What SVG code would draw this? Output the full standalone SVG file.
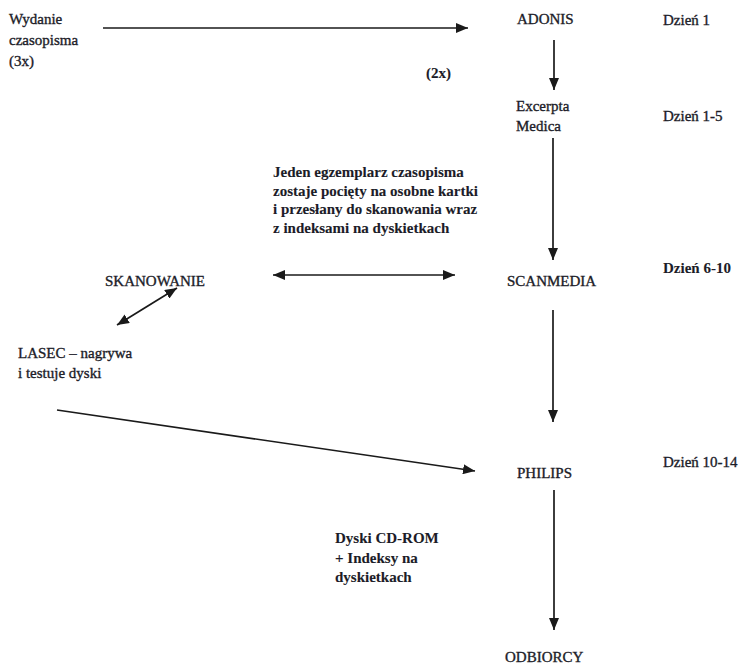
<svg xmlns="http://www.w3.org/2000/svg" width="747" height="666" viewBox="0 0 747 666">
<style>
text{font-family:"Liberation Serif","Times New Roman",serif;font-size:15px;fill:#1c1c28;stroke:#1c1c28;stroke-width:0.35}
.b{font-weight:bold;stroke-width:0.1}
.e{stroke:#1a1a1a;stroke-width:1.7;fill:none}
</style>
<defs>
<marker id="ah" viewBox="0 0 12 10" refX="12" refY="5" markerWidth="12" markerHeight="10" markerUnits="userSpaceOnUse" orient="auto-start-reverse">
<path d="M0,0 L12,5 L0,10 Z" fill="#1a1a1a"/>
</marker>
</defs>
<rect width="747" height="666" fill="#fff"/>
<g id="connectors">
<line class="e" x1="103" y1="28" x2="468" y2="28" marker-end="url(#ah)"/>
<line class="e" x1="554" y1="40" x2="554" y2="90" marker-end="url(#ah)"/>
<line class="e" x1="553" y1="138" x2="553" y2="260" marker-end="url(#ah)"/>
<line class="e" x1="273" y1="275" x2="455" y2="275" marker-start="url(#ah)" marker-end="url(#ah)"/>
<line class="e" x1="177" y1="288" x2="117" y2="325" marker-start="url(#ah)" marker-end="url(#ah)"/>
<line class="e" x1="553" y1="310" x2="553" y2="422" marker-end="url(#ah)"/>
<line class="e" x1="57" y1="410" x2="475" y2="471" marker-end="url(#ah)"/>
<line class="e" x1="554" y1="490" x2="554" y2="630" marker-end="url(#ah)"/>
</g>
<g id="wydanie"><text x="9" y="24" font-size="16">Wydanie</text><text x="9" y="45" font-size="16">czasopisma</text><text x="9" y="66" font-size="16">(3x)</text></g>
<g id="adonis"><text x="517" y="24" font-size="16.5">ADONIS</text></g>
<g id="dzien1"><text x="663" y="25" font-size="16.5">Dzień 1</text></g>
<g id="x2"><text x="426" y="78" class="b" font-size="15.5">(2x)</text></g>
<g id="excerpta"><text x="516" y="111" font-size="14.5">Excerpta</text><text x="516" y="131" font-size="14.5">Medica</text></g>
<g id="dzien15"><text x="663" y="121" font-size="16.5">Dzień 1-5</text></g>
<g id="opis"><text x="273" y="177" class="b" font-size="14.8">Jeden egzemplarz czasopisma</text><text x="273" y="196" class="b" font-size="14.8">zostaje pocięty na osobne kartki</text><text x="273" y="214" class="b" font-size="14.8">i przesłany do skanowania wraz</text><text x="273" y="233" class="b" font-size="14.8">z indeksami na dyskietkach</text></g>
<g id="skanowanie"><text x="105" y="286" font-size="16.8">SKANOWANIE</text></g>
<g id="scanmedia"><text x="507" y="286" font-size="16.5">SCANMEDIA</text></g>
<g id="dzien610"><text x="663" y="273" class="b" font-size="16">Dzień 6-10</text></g>
<g id="lasec"><text x="18" y="358">LASEC – nagrywa</text><text x="18" y="378">i testuje dyski</text></g>
<g id="philips"><text x="517" y="478" font-size="14.5">PHILIPS</text></g>
<g id="dzien1014"><text x="663" y="467" font-size="16.8">Dzień 10-14</text></g>
<g id="dyski"><text x="335" y="543" class="b" font-size="16">Dyski CD-ROM</text><text x="335" y="563" class="b" font-size="16">+ Indeksy na</text><text x="335" y="582" class="b" font-size="16">dyskietkach</text></g>
<g id="odbiorcy"><text x="505" y="662" font-size="16.7">ODBIORCY</text></g>
</svg>
